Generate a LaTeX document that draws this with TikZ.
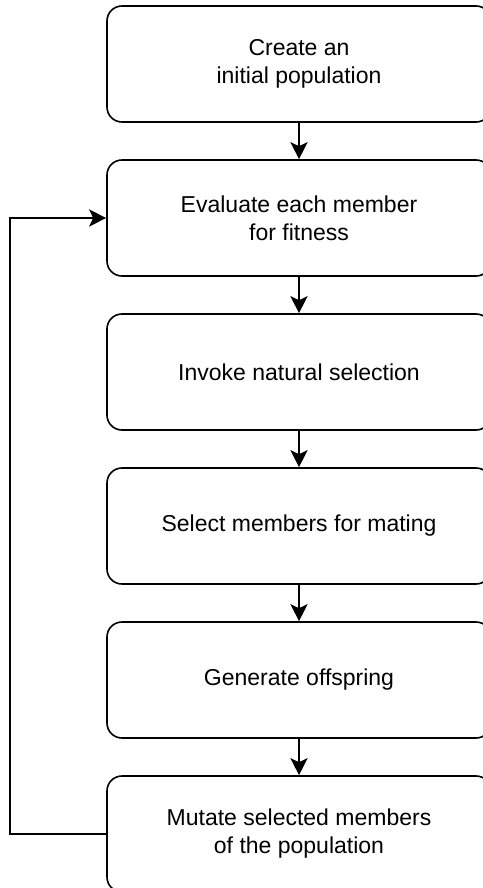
\documentclass[tikz,border=0pt]{standalone}
\usepackage{fontspec}
\setmainfont{Liberation Sans}
\usetikzlibrary{arrows.meta,positioning}

\begin{document}
\begin{tikzpicture}[x=1pt,y=-1pt,
  stage/.style={draw, line width=1.6pt, rounded corners=15pt,
    minimum width=384pt, minimum height=116pt, inner sep=0pt,
    align=center, font=\fontsize{23}{28}\selectfont},
  flow/.style={line width=2pt, -{Stealth[length=17pt,width=17pt,inset=4pt]}}]
\useasboundingbox (0,0) rectangle (482,888);
\def\pitch{154}

% the stages, top to bottom
\foreach \name/\txt [count=\i from 0] in {
    create/{Create an\\initial population},
    evaluate/{Evaluate each member\\for fitness},
    natsel/{Invoke natural selection},
    mating/{Select members for mating},
    offspring/{Generate offspring},
    mutate/{Mutate selected members\\of the population}} {
  \node[stage] (\name) at (299, 64+\i*\pitch) {\txt};
}

% straight arrows between the stages
\foreach \a/\b in {create/evaluate, evaluate/natsel, natsel/mating,
                   mating/offspring, offspring/mutate}
  \draw[flow] (\a) -- (\b);

% loop back to evaluation
\draw[flow] (mutate.west) -- ++(-96,0) |- (evaluate.west);
\end{tikzpicture}
\end{document}
